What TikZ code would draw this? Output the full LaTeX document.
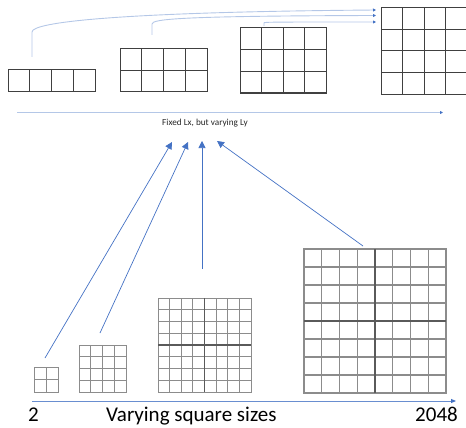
\documentclass[tikz,border=0pt]{standalone}
\usepackage{fontspec}
\setmainfont{Carlito}
\usetikzlibrary{arrows.meta,fit}
\definecolor{lblue}{HTML}{B4C7E7}
\definecolor{mblue}{HTML}{4472C4}
\definecolor{gdark}{HTML}{404040}
\definecolor{ggray}{HTML}{8C8C8C}
\definecolor{gmid}{HTML}{5A5A5A}
\tikzset{
  topgrid/.style={draw=gdark, line width=1pt},
  botgrid/.style={draw=ggray, line width=0.9pt},
  midline/.style={draw=gmid, line width=1.6pt},
  curvearrow/.style={draw=lblue, line width=0.9pt, -{Triangle[length=3pt,width=3pt,color=mblue]}},
  uparrow/.style={draw=mblue, line width=0.7pt, -{Triangle[length=7pt,width=7pt]}},
  axisarrow/.style={draw=lblue, line width=0.9pt, -{Triangle[length=3pt,width=3pt,color=mblue]}},
  baxis/.style={draw=mblue!80, line width=0.9pt, -{Triangle[length=5pt,width=4pt,color=mblue]}},
  gbox/.style={inner sep=0pt, outer sep=0pt},
  bigtext/.style={font=\fontsize{21}{22}\selectfont, inner sep=0pt}
}
% #1 name, #2 x0, #3 y0, #4 x1, #5 y1, #6 nx, #7 ny, #8 style
\newcommand\mygrid[8]{%
  \coordinate (#1-a) at (#2,#3);
  \coordinate (#1-b) at (#4,#5);
  \foreach \i in {1,...,\numexpr#6-1\relax}{%
    \draw[#8] ({#2+(#4-#2)*\i/#6},#3) -- ({#2+(#4-#2)*\i/#6},#5);}
  \foreach \j in {1,...,\numexpr#7-1\relax}{%
    \draw[#8] (#2,{#3+(#5-#3)*\j/#7}) -- (#4,{#3+(#5-#3)*\j/#7});}
  \node[gbox, fit=(#1-a)(#1-b), #8] (#1) {};
}
\begin{document}
\begin{tikzpicture}[x=1pt,y=-1pt]
\useasboundingbox (0,0) rectangle (466,428);
\clip (0,0) rectangle (466,428);
% top grids
\mygrid{ta}{8}{70}{95}{92}{4}{1}{topgrid}
\mygrid{tb}{120}{49}{207}{92}{4}{2}{topgrid}
\mygrid{tc}{240}{28}{326}{93}{4}{3}{topgrid}
\mygrid{td}{381}{8}{467.5}{94}{4}{4}{topgrid}
% curved arrows
\coordinate (c1s) at (32,57);
\coordinate (c1m) at (32,32);
\coordinate (c1e) at (376,10);
\coordinate (c2s) at (152,35);
\coordinate (c2m) at (152,24);
\coordinate (c2e) at (376,15.5);
\coordinate (c3s) at (264,26);
\coordinate (c3m) at (264,23);
\coordinate (c3e) at (376,22);
\draw[curvearrow] (c1s) -- (c1m) .. controls (32,22) and (120,12) .. (c1e);
\draw[curvearrow] (c2s) -- (c2m) .. controls (152,19) and (180,16) .. (c2e);
\draw[curvearrow] (c3s) -- (c3m) .. controls (264,22) and (268,22) .. (c3e);
% top axis
\coordinate (ta1) at (17,112.5);
\coordinate (ta2) at (443,112.5);
\draw[axisarrow] (ta1) -- (ta2);
\node[font=\fontsize{9.2}{10}\selectfont, text=black!85] (tlabel) at (205,123.5) {Fixed Lx, but varying Ly};
% bottom grids
\mygrid{ba}{34}{367}{58}{392}{2}{2}{botgrid}
\mygrid{bb}{79}{345}{126}{392}{4}{4}{botgrid}
\mygrid{bc}{158}{298}{251}{392}{8}{8}{botgrid}
\draw[midline] (bc.north) -- (bc.south);
\draw[midline] (bc.west) -- (bc.east);
\mygrid{bd}{304}{249}{446}{393}{8}{8}{botgrid, line width=1.3pt}
\draw[midline, line width=2pt] (bd.north) -- (bd.south);
\draw[midline, line width=2pt] (bd.west) -- (bd.east);
% up arrows
\coordinate (u1s) at (45,358);   \coordinate (u1e) at (172,142);
\coordinate (u2s) at (100,333);  \coordinate (u2e) at (188,142);
\coordinate (u3s) at (202,269);  \coordinate (u3e) at (202,141);
\coordinate (u4s) at (363,246);  \coordinate (u4e) at (217,141);
\draw[uparrow] (u1s) -- (u1e);
\draw[uparrow] (u2s) -- (u2e);
\draw[uparrow] (u3s) -- (u3e);
\draw[uparrow] (u4s) -- (u4e);
% bottom axis
\coordinate (ba1) at (32,401);
\coordinate (ba2) at (456,401);
\draw[baxis] (ba1) -- (ba2);
\node[bigtext, anchor=base] (l2) at (33.5,421.5) {2};
\node[bigtext, anchor=base west] (lmid) at (106,421.5) {Varying square sizes};
\node[bigtext, anchor=base east] (l2048) at (458,421.5) {2048};
\end{tikzpicture}
\end{document}
